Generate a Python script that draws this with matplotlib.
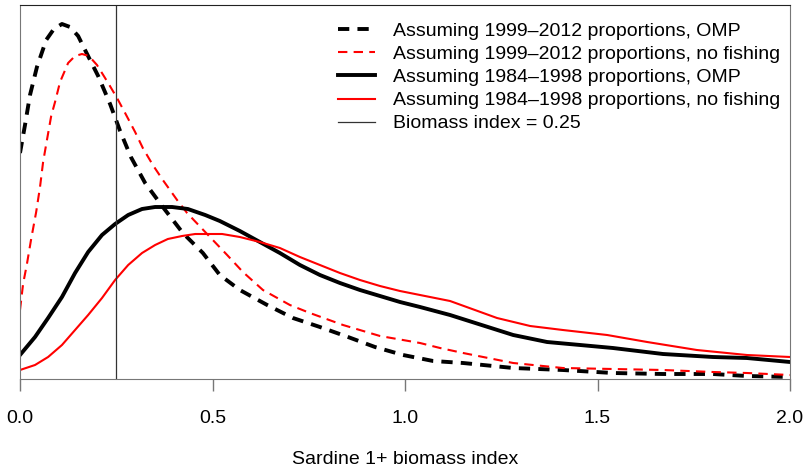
import matplotlib
matplotlib.use("Agg")
import matplotlib.pyplot as plt

plt.rcParams['font.family'] = ['Liberation Sans', 'DejaVu Sans']

# Density curves (x = biomass index, y = density)
x_new_omp = [0.000, 0.013, 0.026, 0.044, 0.068, 0.088, 0.109, 0.130, 0.151, 0.169,
             0.203, 0.234, 0.260, 0.288, 0.325, 0.371, 0.423, 0.475, 0.519, 0.571,
             0.642, 0.709, 0.779, 0.852, 0.922, 0.995, 1.073, 1.151, 1.281, 1.410,
             1.540, 1.670, 1.800, 1.888, 2.000]
y_new_omp = [2.26, 2.54, 2.84, 3.12, 3.39, 3.50, 3.55, 3.52, 3.43, 3.29,
             3.03, 2.75, 2.48, 2.22, 1.96, 1.72, 1.46, 1.26, 1.04, 0.89,
             0.74, 0.61, 0.52, 0.42, 0.32, 0.24, 0.18, 0.16, 0.11, 0.09,
             0.06, 0.05, 0.05, 0.03, 0.02]

x_new_nof = [0.000, 0.008, 0.018, 0.029, 0.042, 0.052, 0.060, 0.070, 0.081, 0.091,
             0.104, 0.125, 0.143, 0.161, 0.179, 0.200, 0.229, 0.252, 0.273, 0.299,
             0.319, 0.345, 0.371, 0.408, 0.434, 0.538, 0.579, 0.631, 0.701, 0.753,
             0.839, 0.935, 1.039, 1.091, 1.151, 1.281, 1.410, 1.540, 1.670, 1.800,
             1.888, 2.000]
y_new_nof = [0.69, 0.95, 1.15, 1.40, 1.67, 1.92, 2.17, 2.39, 2.63, 2.77,
             2.97, 3.16, 3.23, 3.25, 3.23, 3.14, 2.96, 2.81, 2.66, 2.47,
             2.31, 2.14, 1.99, 1.79, 1.66, 1.24, 1.07, 0.89, 0.74, 0.66,
             0.54, 0.43, 0.36, 0.31, 0.26, 0.16, 0.11, 0.10, 0.09, 0.07,
             0.06, 0.04]

x_old_omp = [0.000, 0.039, 0.073, 0.109, 0.143, 0.177, 0.213, 0.247, 0.281, 0.317,
             0.351, 0.395, 0.436, 0.481, 0.519, 0.571, 0.623, 0.675, 0.727, 0.779,
             0.831, 0.883, 0.935, 0.987, 1.039, 1.117, 1.281, 1.369, 1.455, 1.540,
             1.670, 1.800, 1.888, 2.000]
y_old_omp = [0.24, 0.42, 0.61, 0.82, 1.06, 1.27, 1.44, 1.55, 1.64, 1.70,
             1.72, 1.72, 1.70, 1.64, 1.58, 1.48, 1.37, 1.26, 1.14, 1.04,
             0.96, 0.89, 0.83, 0.77, 0.72, 0.64, 0.44, 0.37, 0.34, 0.31,
             0.25, 0.22, 0.21, 0.17]

x_old_nof = [0.000, 0.039, 0.073, 0.109, 0.143, 0.177, 0.213, 0.247, 0.281, 0.317,
             0.351, 0.384, 0.421, 0.455, 0.488, 0.525, 0.571, 0.623, 0.675, 0.727,
             0.779, 0.831, 0.883, 0.935, 0.987, 1.039, 1.117, 1.239, 1.325, 1.410,
             1.525, 1.629, 1.758, 1.888, 2.000]
y_old_nof = [0.09, 0.14, 0.22, 0.34, 0.49, 0.64, 0.81, 0.99, 1.14, 1.26,
             1.34, 1.40, 1.43, 1.45, 1.45, 1.45, 1.42, 1.37, 1.31, 1.22,
             1.14, 1.06, 0.99, 0.93, 0.88, 0.84, 0.78, 0.61, 0.53, 0.49,
             0.44, 0.37, 0.29, 0.24, 0.22]

threshold = 0.25
xticks = [0.0, 0.5, 1.0, 1.5, 2.0]
labels = ["Assuming 1999\u20132012 proportions, OMP",
          "Assuming 1999\u20132012 proportions, no fishing",
          "Assuming 1984\u20131998 proportions, OMP",
          "Assuming 1984\u20131998 proportions, no fishing",
          "Biomass index = 0.25"]

fig = plt.figure(figsize=(8.05, 4.68), dpi=100)
ax = fig.add_axes([20 / 805, 1 - 379 / 468, 770 / 805, 374 / 468])

l1, = ax.plot(x_new_omp, y_new_omp, color='black', lw=2.8, dashes=(2.9, 2.1))
l2, = ax.plot(x_new_nof, y_new_nof, color='red', lw=1.5, dashes=(4.5, 3.0))
l3, = ax.plot(x_old_omp, y_old_omp, color='black', lw=2.8, solid_joinstyle='round')
l4, = ax.plot(x_old_nof, y_old_nof, color='red', lw=1.5, solid_joinstyle='round')
l5 = ax.axvline(threshold, color='#333333', lw=0.9)

ax.set_xlim(0, 2.0)
ax.set_ylim(0, 3.74)
ax.set_yticks([])
ax.set_xticks(xticks)
ax.set_xticklabels([f"{t:.1f}" for t in xticks], fontsize=14)
ax.tick_params(axis='x', direction='out', length=8.5, width=1, color='#777777', pad=14)

for side in ['left', 'right', 'bottom']:
    ax.spines[side].set_color('#777777')
ax.spines['top'].set_color('#222222')

ax.set_xlabel("Sardine 1+ biomass index", fontsize=14, labelpad=17)

leg = ax.legend([l1, l2, l3, l4, l5], labels, loc='upper right', frameon=False,
                fontsize=14, handlelength=1.9, handletextpad=0.95,
                labelspacing=0.28, borderaxespad=0.1, bbox_to_anchor=(1.0, 0.979))

fig.savefig("out.png", dpi=100)
